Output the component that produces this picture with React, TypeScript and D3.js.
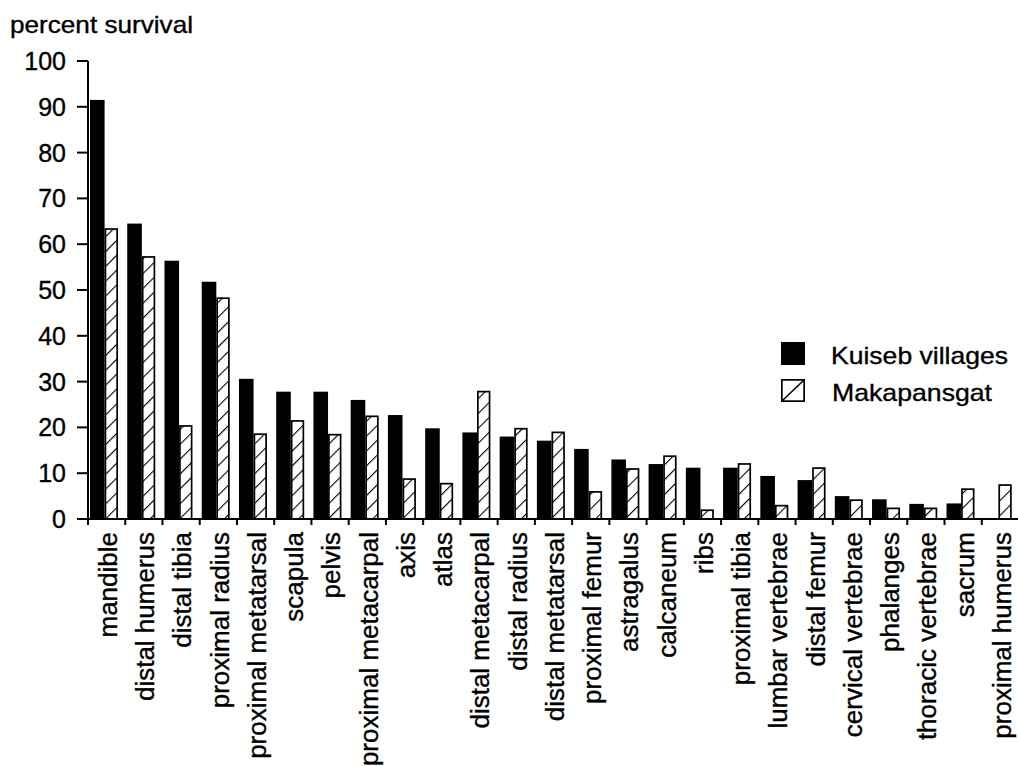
import React from "react";
import * as d3 from "d3";

const categories = [
  "mandible", "distal humerus", "distal tibia", "proximal radius", "proximal metatarsal",
  "scapula", "pelvis", "proximal metacarpal", "axis", "atlas", "distal metacarpal",
  "distal radius", "distal metatarsal", "proximal femur", "astragalus", "calcaneum",
  "ribs", "proximal tibia", "lumbar vertebrae", "distal femur", "cervical vertebrae",
  "phalanges", "thoracic vertebrae", "sacrum", "proximal humerus",
];
const kuiseb = [91.5, 64.5, 56.4, 51.8, 30.6, 27.8, 27.8, 26.0, 22.7, 19.8, 18.9, 18.0, 17.1, 15.3, 13.0, 12.0, 11.2, 11.2, 9.4, 8.5, 5.0, 4.3, 3.3, 3.4, 0];
const makapansgat = [63.5, 57.4, 20.5, 48.4, 18.7, 21.6, 18.6, 22.6, 8.9, 7.9, 28.0, 19.9, 19.1, 6.1, 11.1, 13.9, 2.1, 12.2, 3.1, 11.3, 4.3, 2.5, 2.5, 6.7, 7.6];
const yTicks = [0, 10, 20, 30, 40, 50, 60, 70, 80, 90, 100];
const seriesNames = ["Kuiseb villages", "Makapansgat"];

const FONT = "'Liberation Sans', Arial, Helvetica, sans-serif";
const TXT = { fontFamily: FONT, fill: "#000", stroke: "#000", strokeWidth: 0.35 } as const;

export default function App() {
  const W = 1018, H = 766;
  const x0 = 88, x1 = 1019, yTop = 61, yBase = 519;
  const x = d3.scaleBand<string>().domain(categories).range([x0, x1]).padding(0);
  const y = d3.scaleLinear().domain([0, 100]).range([yBase, yTop]);
  const bw = x.bandwidth();
  const sw = 1.7;

  return (
    <svg width={W} height={H} style={{ position: "absolute", left: 0, top: 0, background: "#fff" }}>
      <defs>
        <pattern id="hatch" patternUnits="userSpaceOnUse" width={10.5} height={10.5} patternTransform="rotate(45)">
          <rect width={10.5} height={10.5} fill="#fff" />
          <line x1={0} y1={0} x2={0} y2={10.5} stroke="#000" strokeWidth={2.2} />
        </pattern>
      </defs>
      <rect width={W} height={H} fill="#fff" />

      {/* bars */}
      {categories.map((c, i) => {
        const bx = x(c)!;
        const kv = kuiseb[i];
        const mv = makapansgat[i];
        return (
          <g key={c}>
            {kv > 0 && (
              <rect x={bx + 2} y={y(kv)} width={14.6} height={yBase - y(kv)} fill="#000" />
            )}
            {mv > 0 && (
              <rect
                x={bx + 16.6 + sw / 2}
                y={y(mv) + sw / 2}
                width={13.4 - sw}
                height={yBase - y(mv) - sw / 2}
                fill="url(#hatch)"
                stroke="#000"
                strokeWidth={sw}
              />
            )}
          </g>
        );
      })}

      {/* y axis */}
      <line x1={x0} y1={yTop} x2={x0} y2={yBase} stroke="#000" strokeWidth={2} />
      {yTicks.map((t) => (
        <g key={t}>
          <line x1={77} y1={y(t)} x2={x0} y2={y(t)} stroke="#000" strokeWidth={2} />
          <text x={66} y={y(t)} dy="0.36em" textAnchor="end" fontSize={25} {...TXT}>
            {t}
          </text>
        </g>
      ))}

      {/* x axis */}
      <line x1={x0} y1={yBase} x2={W} y2={yBase} stroke="#000" strokeWidth={2} />
      {d3.range(categories.length + 1).map((i) => {
        const tx = x0 + i * bw;
        return <line key={i} x1={tx} y1={yBase} x2={tx} y2={yBase + 6} stroke="#000" strokeWidth={2} />;
      })}
      {categories.map((c) => {
        const cx = x(c)! + bw / 2;
        return (
          <text
            key={c}
            transform={`translate(${cx + 1},532) rotate(-90)`}
            textAnchor="end"
            dy="0.36em"
            fontSize={26}
            {...TXT}
          >
            {c}
          </text>
        );
      })}

      {/* y title */}
      <text x={10} y={33} fontSize={24} textLength={183} lengthAdjust="spacingAndGlyphs" {...TXT}>
        percent survival
      </text>

      {/* legend */}
      <rect x={781} y={342} width={24} height={23} fill="#000" />
      <text x={831} y={364} fontSize={24} textLength={177} lengthAdjust="spacingAndGlyphs" {...TXT}>
        {seriesNames[0]}
      </text>
      <rect x={781 + sw / 2} y={379 + sw / 2} width={24 - sw} height={23 - sw} fill="#fff" stroke="#000" strokeWidth={sw} />
      <line x1={782} y1={401} x2={804} y2={380} stroke="#000" strokeWidth={1.6} />
      <text x={832} y={401} fontSize={24} textLength={160} lengthAdjust="spacingAndGlyphs" {...TXT}>
        {seriesNames[1]}
      </text>
    </svg>
  );
}
